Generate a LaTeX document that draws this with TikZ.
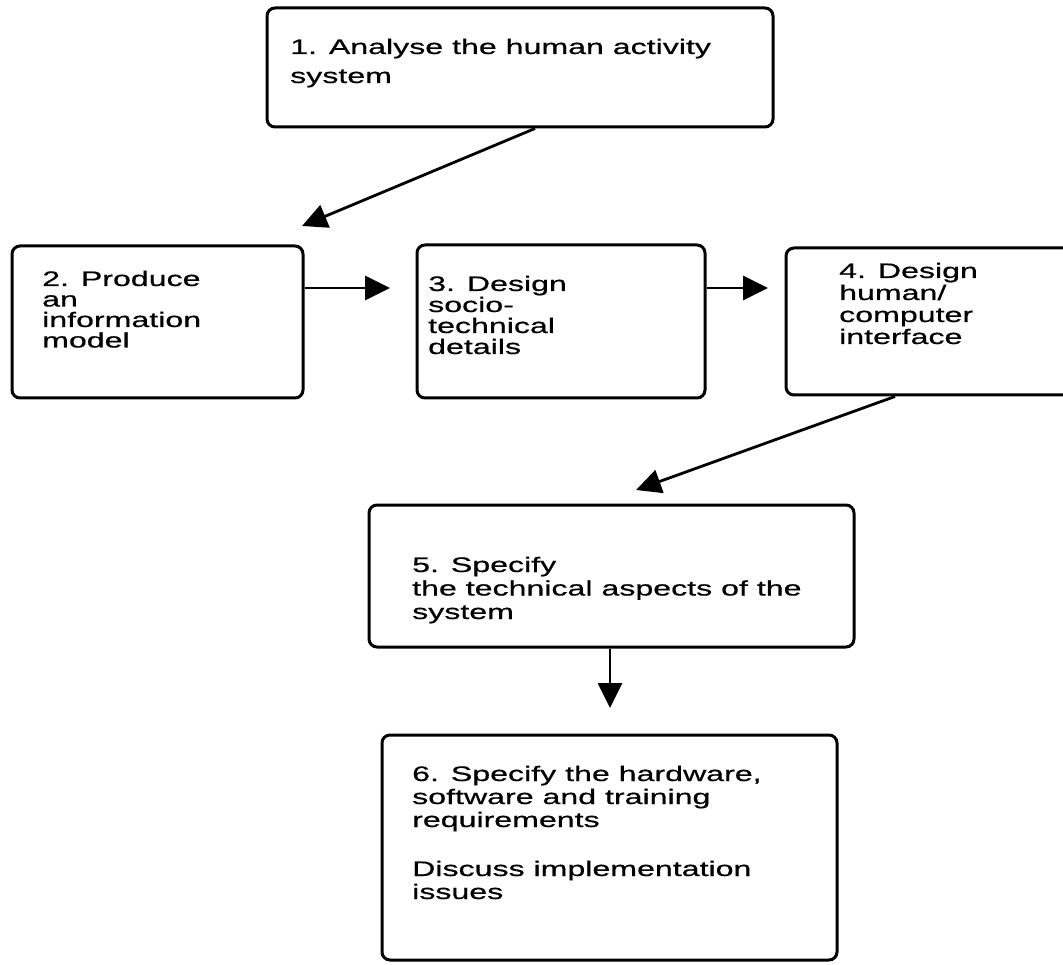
\documentclass[tikz,border=0pt]{standalone}
\usepackage{fontspec}
\setmainfont{Liberation Sans}[FakeStretch=1.53,FakeBold=0.6]
\usetikzlibrary{arrows.meta}
\begin{document}
\begin{tikzpicture}[x=1pt,y=-1pt,
  stage/.style={draw=black, line width=3pt, rounded corners=8pt, inner sep=0pt},
  stagetext/.style={anchor=base west, inner sep=0pt},
  flow/.style={draw=black, line width=2.8pt, -{Triangle[length=25pt,width=24pt]}}]
\clip (0,0) rectangle (1063,965);
\fill[white] (0,0) rectangle (1063,965);

% process stages
\node[stage, minimum width=506pt, minimum height=119pt] (b1) at (520,67.5) {};
\node[stage, minimum width=291pt, minimum height=152pt] (b2) at (157.5,322) {};
\node[stage, minimum width=288pt, minimum height=153pt] (b3) at (561,321.5) {};
\node[stage, minimum width=304pt, minimum height=147pt] (b4) at (938,321.5) {};
\node[stage, minimum width=485pt, minimum height=142pt] (b5) at (611.5,576) {};
\node[stage, minimum width=455pt, minimum height=225pt] (b6) at (609.5,847.5) {};

% stage texts (first baseline at the node's base anchor)
\node[stagetext, font=\fontsize{21}{29}\selectfont] (l1) at (290,54)
  {\vtop{\hbox{1. Analyse the human activity}\hbox{system}}};
\node[stagetext, font=\fontsize{21}{20.5}\selectfont] (l2) at (42,286)
  {\vtop{\hbox{2. Produce}\hbox{an}\hbox{information}\hbox{model}}};
\node[stagetext, font=\fontsize{21}{21}\selectfont] (l3) at (428,291)
  {\vtop{\hbox{3. Design}\hbox{socio-}\hbox{technical}\hbox{details}}};
\node[stagetext, font=\fontsize{21}{22}\selectfont] (l4) at (839,278)
  {\vtop{\hbox{4. Design}\hbox{human/}\hbox{computer}\hbox{interface}}};
\node[stagetext, font=\fontsize{21}{23.5}\selectfont] (l5) at (412,572)
  {\vtop{\hbox{5. Specify}\hbox{the technical aspects of the}\hbox{system}}};
\node[stagetext, font=\fontsize{21}{23}\selectfont] (l6) at (412,781)
  {\vtop{\hbox{6. Specify the hardware,}\hbox{software and training}\hbox{requirements}\vskip 26pt\hbox{Discuss implementation}\hbox{issues}}};

% connectors
\coordinate (p12) at (302,226);
\coordinate (p23) at (390,288);
\coordinate (p34) at (768,288);
\coordinate (p45) at (636,490);
\coordinate (p56) at (610,708);
\draw[flow] ([xshift=15pt]b1.south) -- (p12);
\draw[flow] (b2.east |- p23) -- (p23);
\draw[flow] (b3.east |- p34) -- (p34);
\draw[flow] ([xshift=-43pt]b4.south) -- (p45);
\draw[flow] (b5.south -| p56) -- (p56);
\end{tikzpicture}
\end{document}
